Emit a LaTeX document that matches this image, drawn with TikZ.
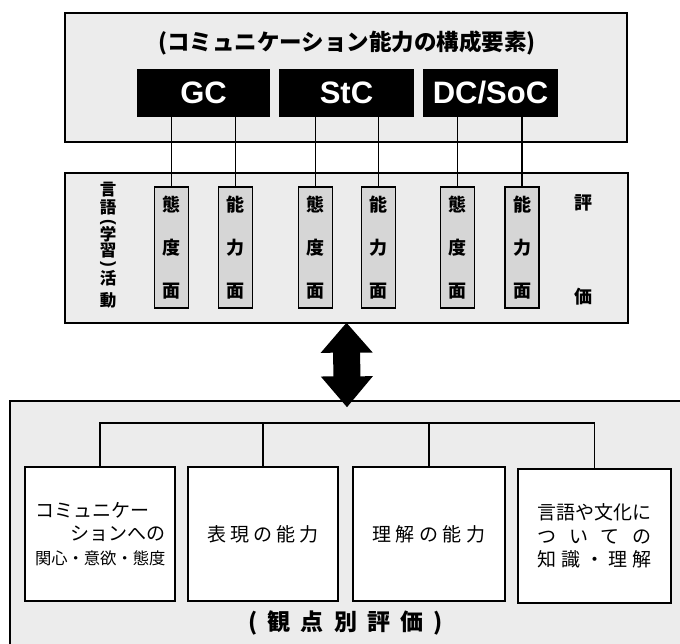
\documentclass[tikz,border=0pt]{standalone}
\usepackage{fontspec}
\setmainfont{Liberation Sans}
\newfontfamily\cjk{Noto Sans CJK JP}
\usetikzlibrary{arrows.meta}
\begin{document}
\begin{tikzpicture}[x=1pt,y=-1pt,
  panel/.style={draw, line width=1.3pt, fill=gray!15, inner sep=0pt},
  blk/.style={fill=black, text=white, inner sep=0pt, minimum height=48pt,
    font=\bfseries\fontsize{31}{31}\selectfont},
  face/.style={draw, line width=1.3pt, fill=gray!32, minimum width=34pt,
    minimum height=121pt, align=center, inner sep=0pt,
    font=\cjk\bfseries\fontsize{18}{43}\selectfont},
  view/.style={draw, line width=1.3pt, fill=white, minimum height=134pt,
    align=center, inner sep=0pt, font=\cjk\fontsize{19}{23.5}\selectfont},
  link/.style={line width=1.2pt},
  lbl/.style={inner sep=0pt, font=\cjk\bfseries\fontsize{18}{18}\selectfont},
  vchar/.style={inner sep=0pt, font=\cjk\bfseries\fontsize{16.5}{16.5}\selectfont},
  vpar/.style={inner sep=0pt, rotate=-90, font=\bfseries\fontsize{17}{17}\selectfont}]

\useasboundingbox (0,0) rectangle (680,643);

% top panel
\node[panel, minimum width=562pt, minimum height=129pt] (top) at (346,77.5) {};
\node[inner sep=0pt, font=\cjk\bfseries\fontsize{22.5}{22.5}\selectfont] (title) at (347,43)
  {(コミュニケーション能力の構成要素)};
\node[blk, minimum width=133pt] (gc) at (203.5,93) {GC};
\node[blk, minimum width=135pt] (stc) at (346.5,93) {StC};
\node[blk, minimum width=135pt] (dc) at (490.5,93) {DC/SoC};

% middle panel
\node[panel, minimum width=563pt, minimum height=150pt] (mid) at (346.5,248) {};
\foreach \c/\yy [count=\i] in {言/190, 語/207, 学/234, 習/251, 活/278, 動/300}
  \node[vchar] (v\i) at (108,\yy) {\c};
\node[vpar] (lp) at (108,222) {(};
\node[vpar] (rp) at (108,264) {)};
\node[face] (s1) at (171.5,247.5) {態\\度\\面};
\node[face] (s2) at (235.5,247.5) {能\\力\\面};
\node[face] (s3) at (315.5,247.5) {態\\度\\面};
\node[face] (s4) at (378.5,247.5) {能\\力\\面};
\node[face] (s5) at (457.5,247.5) {態\\度\\面};
\node[face] (s6) at (522,247.5) {能\\力\\面};
\node[lbl] (hyo) at (583,203) {評};
\node[lbl] (ka) at (583,297) {価};

\draw[link] (gc.south -| s1.north) -- (s1.north);
\draw[link] (gc.south -| s2.north) -- (s2.north);
\draw[link] (stc.south -| s3.north) -- (s3.north);
\draw[link] (stc.south -| s4.north) -- (s4.north);
\draw[link] (dc.south -| s5.north) -- (s5.north);
\draw[link] (dc.south -| s6.north) -- (s6.north);

% bottom panel
\node[panel, minimum width=674pt, minimum height=246pt] (bot) at (347,524) {};
\node[view, minimum width=150pt] (b1) at (100,534)
  {\parbox{130pt}{\raggedright コミュニケー\\\mbox{}\hfill ションへの\\%
   \makebox[130pt][s]{\fontsize{16.3}{23.5}\selectfont 関心\hfill・\hfill 意欲\hfill・\hfill 態度}}};
\node[view, minimum width=150pt] (b2) at (263,534)
  {\makebox[112pt][s]{表\hfill 現\hfill の\hfill 能\hfill 力}};
\node[view, minimum width=152pt] (b3) at (429,534)
  {\makebox[113pt][s]{理\hfill 解\hfill の\hfill 能\hfill 力}};
\node[view, minimum width=153pt] (b4) at (594.5,536)
  {\makebox[114pt][s]{言\hfill 語\hfill や\hfill 文\hfill 化\hfill に}\\
   \makebox[114pt][s]{つ\hfill い\hfill て\hfill の}\\
   \makebox[114pt][s]{知\hfill 識\hfill ・\hfill 理\hfill 解}};
\coordinate (bar) at (346,423);
\draw[link] (b1.north) |- (bar) -| (b4.north);
\draw[link] (b2.north) -- (b2.north |- bar);
\draw[link] (b3.north) -- (b3.north |- bar);
\node[inner sep=0pt, font=\cjk\bfseries\fontsize{23}{23}\selectfont] (kanten) at (345.5,623)
  {\makebox[195pt][s]{(\hfill 観\hfill 点\hfill 別\hfill 評\hfill 価\hfill )}};

% double arrow
\draw[line width=27pt,
  {Triangle[length=30pt,width=50pt]}-{Triangle[length=31pt,width=50pt]}]
  ([yshift=1pt]mid.south) -- ([yshift=-7pt]bot.north);
\end{tikzpicture}
\end{document}
